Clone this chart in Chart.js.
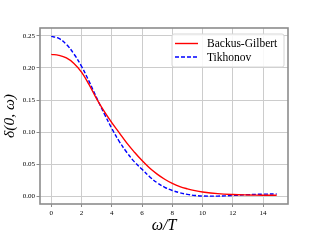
<!DOCTYPE html>
<html>
<head>
<meta charset="utf-8">
<script src="https://cdn.jsdelivr.net/npm/chart.js@4/dist/chart.umd.min.js"></script>
<style>
  html, body { margin: 0; padding: 0; background: #ffffff; }
  #wrap { width: 320px; height: 240px; }
</style>
</head>
<body>
<div id="wrap"><canvas id="c" width="320" height="240"></canvas></div>
<script>
// ---- data ----
const omegaOverT = [0, 0.5, 1, 1.5, 2, 2.5, 3, 3.5, 4, 4.5, 5, 5.5, 6, 6.5, 7, 7.5, 8, 8.5, 9, 9.5, 10, 11, 12, 13, 14, 14.9];
const backusGilbert = [0.221, 0.2195, 0.2155, 0.207, 0.1935, 0.174, 0.152, 0.1325, 0.115, 0.099, 0.083, 0.069, 0.056, 0.0445, 0.035, 0.027, 0.0205, 0.0155, 0.012, 0.0092, 0.0072, 0.0046, 0.0032, 0.0025, 0.0021, 0.002];
const tikhonov = [0.249, 0.2458, 0.2365, 0.2215, 0.2025, 0.179, 0.1535, 0.129, 0.106, 0.0855, 0.0685, 0.054, 0.0425, 0.031, 0.0215, 0.0145, 0.0095, 0.006, 0.0035, 0.0018, 0.0009, 0.0008, 0.0018, 0.003, 0.0038, 0.004];
const seriesLabels = ['Backus-Gilbert', 'Tikhonov'];
const xTicks = [0, 2, 4, 6, 8, 10, 12, 14];
const yTicks = [0.00, 0.05, 0.10, 0.15, 0.20, 0.25];
const xTitle = 'ω/T';
const yTitle = 'δ(0, ω)';

const SERIF = "'Liberation Serif', 'DejaVu Serif', serif";

const toPts = (xs, ys) => xs.map((x, i) => ({ x: x, y: ys[i] }));

const framePlugin = {
  id: 'frame',
  afterDatasetsDraw(chart) {
    const { ctx, chartArea: a } = chart;
    ctx.save();
    ctx.strokeStyle = '#8c8c8c';
    ctx.lineWidth = 1.6;
    ctx.strokeRect(a.left, a.top, a.right - a.left, a.bottom - a.top);
    ctx.restore();
  }
};

const legendPlugin = {
  id: 'customLegend',
  afterDraw(chart) {
    const { ctx } = chart;
    const x0 = 172, y0 = 34, w = 112, h = 33, r = 2;
    ctx.save();
    ctx.beginPath();
    ctx.moveTo(x0 + r, y0);
    ctx.lineTo(x0 + w - r, y0);
    ctx.arcTo(x0 + w, y0, x0 + w, y0 + r, r);
    ctx.lineTo(x0 + w, y0 + h - r);
    ctx.arcTo(x0 + w, y0 + h, x0 + w - r, y0 + h, r);
    ctx.lineTo(x0 + r, y0 + h);
    ctx.arcTo(x0, y0 + h, x0, y0 + h - r, r);
    ctx.lineTo(x0, y0 + r);
    ctx.arcTo(x0, y0, x0 + r, y0, r);
    ctx.closePath();
    ctx.fillStyle = 'rgba(255,255,255,0.85)';
    ctx.fill();
    ctx.strokeStyle = '#d6d6d6';
    ctx.lineWidth = 1;
    ctx.stroke();
    const rows = [43.5, 57];
    chart.data.datasets.forEach((ds, i) => {
      const y = rows[i];
      ctx.beginPath();
      ctx.setLineDash(ds.borderDash || []);
      ctx.strokeStyle = ds.borderColor;
      ctx.lineWidth = ds.borderWidth;
      ctx.moveTo(175, y);
      ctx.lineTo(198, y);
      ctx.stroke();
      ctx.setLineDash([]);
      ctx.fillStyle = '#000';
      ctx.font = '11.5px ' + SERIF;
      ctx.textBaseline = 'middle';
      ctx.textAlign = 'left';
      ctx.fillText(ds.label, 207, y + 0.5);
    });
    ctx.restore();
  }
};

new Chart(document.getElementById('c'), {
  type: 'line',
  data: {
    datasets: [
      {
        label: seriesLabels[0],
        data: toPts(omegaOverT, backusGilbert),
        borderColor: '#ff0000',
        borderWidth: 1.4,
        pointRadius: 0,
        fill: false,
        tension: 0.4
      },
      {
        label: seriesLabels[1],
        data: toPts(omegaOverT, tikhonov),
        borderColor: '#0000ff',
        borderWidth: 1.4,
        borderDash: [4, 2],
        pointRadius: 0,
        fill: false,
        tension: 0.4
      }
    ]
  },
  options: {
    responsive: false,
    animation: false,
    devicePixelRatio: 1,
    layout: { padding: { top: 28, right: 32, left: 0, bottom: 0 } },
    plugins: {
      legend: { display: false },
      tooltip: { enabled: false }
    },
    scales: {
      x: {
        type: 'linear',
        min: -0.745,
        max: 15.65,
        afterBuildTicks: (s) => { s.ticks = xTicks.map(v => ({ value: v })); },
        afterFit: (s) => { s.height = 36; },
        border: { display: false },
        grid: { color: '#cccccc', lineWidth: 1, tickColor: '#8c8c8c', tickLength: 3, drawTicks: true },
        ticks: { color: '#000', font: { family: SERIF, size: 7 }, padding: 2, maxRotation: 0, callback: (v) => String(v) },
        title: { display: true, text: xTitle, color: '#000', font: { family: SERIF, size: 16, style: 'italic' }, padding: { top: 0, bottom: 5 } }
      },
      y: {
        type: 'linear',
        min: -0.0115,
        max: 0.262,
        afterBuildTicks: (s) => { s.ticks = yTicks.map(v => ({ value: v })); },
        afterFit: (s) => { s.width = 40; },
        border: { display: false },
        grid: { color: '#cccccc', lineWidth: 1, tickColor: '#8c8c8c', tickLength: 3.5, drawTicks: true },
        ticks: { color: '#000', font: { family: SERIF, size: 7 }, padding: 1.5, callback: (v) => v.toFixed(2) },
        title: { display: true, text: yTitle, color: '#000', font: { family: SERIF, size: 15.5, style: 'italic' }, padding: { top: 1, bottom: 0 } }
      }
    }
  },
  plugins: [framePlugin, legendPlugin]
});
</script>
</body>
</html>
